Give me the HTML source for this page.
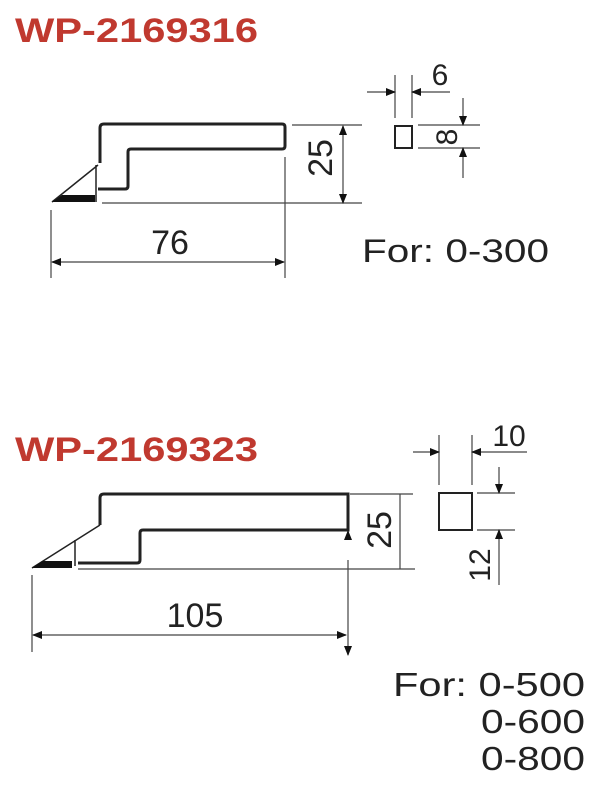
<!DOCTYPE html>
<html><head><meta charset="utf-8"><style>
html,body{margin:0;padding:0;background:#fff;}
svg{display:block;}
</style></head><body>
<svg width="600" height="795" viewBox="0 0 600 795" xmlns="http://www.w3.org/2000/svg">
<defs>
<marker id="a" markerWidth="10" markerHeight="8" refX="9" refY="4" orient="auto" markerUnits="userSpaceOnUse">
<path d="M0,0 L10,4 L0,8 z" fill="#111"/></marker>
</defs>
<g font-family="'Liberation Sans', sans-serif">
<text x="15" y="42" font-size="34" font-weight="bold" fill="#c0392f" textLength="243" lengthAdjust="spacingAndGlyphs">WP-2169316</text>
<text x="15" y="461" font-size="34" font-weight="bold" fill="#c0392f" textLength="243" lengthAdjust="spacingAndGlyphs">WP-2169323</text>
</g>
<g stroke="#222" fill="none">
<path d="M100,163 L100,128 Q100,124 104,124 L282,124 Q285,124 285,127 L285,146 Q285,149 282,149 L131,149 Q128,149 128,152 L128,186 Q128,189 125,189 L98,189" stroke-width="3"/>
<path d="M52,202 L98,165 M96,165 L96,202" stroke-width="1.5"/>
<path d="M52,202 L62,195 L95,195 L95,202 z" fill="#111" stroke="none"/>
<g stroke-width="1.2" stroke="#444">
<line x1="102" y1="203" x2="362" y2="203"/>
<line x1="292" y1="125" x2="362" y2="125"/>
<line x1="285" y1="157" x2="285" y2="278"/>
<line x1="51" y1="210" x2="51" y2="278"/>
<line x1="343" y1="135" x2="343" y2="126" marker-end="url(#a)"/>
<line x1="343" y1="135" x2="343" y2="203" marker-end="url(#a)"/>
<line x1="150" y1="262" x2="52" y2="262" marker-end="url(#a)"/>
<line x1="150" y1="262" x2="284" y2="262" marker-end="url(#a)"/>
<line x1="395" y1="75" x2="395" y2="118"/>
<line x1="412" y1="75" x2="412" y2="118"/>
<line x1="367" y1="92" x2="395" y2="92" marker-end="url(#a)"/>
<line x1="450" y1="92" x2="412" y2="92" marker-end="url(#a)"/>
<line x1="418" y1="125" x2="480" y2="125"/>
<line x1="418" y1="148" x2="480" y2="148"/>
<line x1="463" y1="98" x2="463" y2="125" marker-end="url(#a)"/>
<line x1="463" y1="178" x2="463" y2="148" marker-end="url(#a)"/>
</g>
<rect x="395" y="126" width="17" height="22" stroke-width="2"/>

<path d="M100,525 L100,498 Q100,494 104,494 L348,494 L348,530 L143,530 Q140,530 140,533 L140,560 Q140,563 137,563 L78,563" stroke-width="3"/>
<path d="M32,568 L100,525 M75,540 L75,566" stroke-width="1.5"/>
<path d="M32,568 L42,561 L72,561 L72,568 z" fill="#111" stroke="none"/>
<g stroke-width="1.2" stroke="#444">
<line x1="78" y1="569" x2="415" y2="569"/>
<line x1="350" y1="494" x2="413" y2="494"/>
<line x1="348" y1="560" x2="348" y2="655" marker-end="url(#a)"/>
<line x1="348" y1="540" x2="348" y2="531" marker-end="url(#a)"/>
<line x1="32" y1="575" x2="32" y2="652"/>
<line x1="150" y1="635" x2="33" y2="635" marker-end="url(#a)"/>
<line x1="150" y1="635" x2="346" y2="635" marker-end="url(#a)"/>
<line x1="400" y1="494" x2="400" y2="569"/>
<line x1="439" y1="435" x2="439" y2="485"/>
<line x1="472" y1="435" x2="472" y2="485"/>
<line x1="413" y1="452" x2="439" y2="452" marker-end="url(#a)"/>
<line x1="527" y1="452" x2="472" y2="452" marker-end="url(#a)"/>
<line x1="477" y1="493" x2="515" y2="493"/>
<line x1="477" y1="530" x2="515" y2="530"/>
<line x1="499" y1="467" x2="499" y2="493" marker-end="url(#a)"/>
<line x1="499" y1="585" x2="499" y2="530" marker-end="url(#a)"/>
</g>
<rect x="439" y="493" width="33" height="37" stroke-width="2"/>
</g>
<g font-family="'Liberation Sans', sans-serif" fill="#222">
<text x="170" y="254" font-size="34" text-anchor="middle">76</text>
<text x="0" y="0" font-size="34" text-anchor="middle" transform="translate(332,158) rotate(-90)">25</text>
<text x="440" y="85" font-size="30" text-anchor="middle">6</text>
<text x="0" y="0" font-size="30" text-anchor="middle" transform="translate(457,137) rotate(-90)">8</text>
<text x="362" y="262" font-size="32" textLength="187" lengthAdjust="spacingAndGlyphs">For: 0-300</text>
<text x="195" y="627" font-size="34" text-anchor="middle">105</text>
<text x="0" y="0" font-size="34" text-anchor="middle" transform="translate(391,530) rotate(-90)">25</text>
<text x="509" y="446" font-size="30" text-anchor="middle">10</text>
<text x="0" y="0" font-size="30" text-anchor="middle" transform="translate(490,565) rotate(-90)">12</text>
<text x="393" y="696" font-size="33" textLength="192" lengthAdjust="spacingAndGlyphs">For: 0-500</text>
<text x="481" y="733" font-size="33" textLength="104" lengthAdjust="spacingAndGlyphs">0-600</text>
<text x="481" y="770" font-size="33" textLength="104" lengthAdjust="spacingAndGlyphs">0-800</text>
</g>
</svg>
</body></html>
